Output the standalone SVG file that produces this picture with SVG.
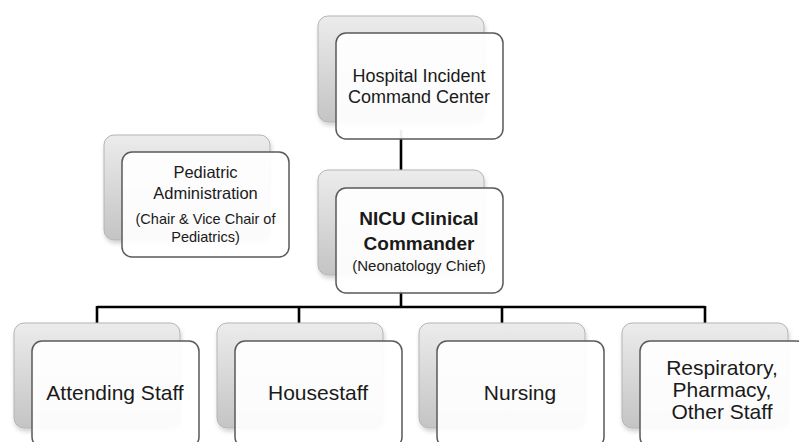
<svg xmlns="http://www.w3.org/2000/svg" width="799" height="442" viewBox="0 0 799 442">
<defs>
<linearGradient id="backGrad" x1="0" y1="0" x2="0" y2="1">
<stop offset="0" stop-color="#ececec"/>
<stop offset="1" stop-color="#c4c4c4"/>
</linearGradient>
<filter id="shadow" x="-10%" y="-10%" width="125%" height="130%">
<feDropShadow dx="1" dy="3" stdDeviation="2" flood-color="#000" flood-opacity="0.18"/>
</filter>
</defs>
<style>
.back{fill:url(#backGrad);stroke:#b4b4b4;stroke-width:1;filter:url(#shadow)}
.front{fill:#ffffff;fill-opacity:0.93;stroke:#5a5a5a;stroke-width:1.5}
.conn{stroke:#000;stroke-width:2.6;fill:none}
text{font-family:"Liberation Sans",Arial,sans-serif;fill:#1a1a1a;text-anchor:middle}
.t18{font-size:18px}
.t21{font-size:21px}
.t16{font-size:16.5px}
.t14{font-size:14.5px}
.t15{font-size:15px}
.bold{font-size:19px;font-weight:bold}
</style>
<rect width="799" height="442" fill="#ffffff"/>
<g id="connectors">
<line class="conn" x1="401" y1="130" x2="401" y2="180"/>
<polyline class="conn" points="401,290 401,307"/>
<line class="conn" x1="97" y1="307" x2="705" y2="307"/>
<line class="conn" x1="97" y1="306" x2="97" y2="330"/>
<line class="conn" x1="299" y1="306" x2="299" y2="330"/>
<line class="conn" x1="502" y1="306" x2="502" y2="330"/>
<line class="conn" x1="705" y1="306" x2="705" y2="330"/>
</g>
<g id="node-hicc">
<rect class="back" x="318" y="16" width="166" height="106" rx="10"/>
<rect class="front" x="336" y="33" width="167" height="106" rx="10"/>
<text class="t18" x="419" y="82">Hospital Incident</text>
<text class="t18" x="419" y="103">Command Center</text>
</g>
<g id="node-pediatric">
<rect class="back" x="104" y="135" width="166" height="105" rx="10"/>
<rect class="front" x="122" y="152" width="167" height="105" rx="10"/>
<text class="t16" x="205.5" y="178">Pediatric</text>
<text class="t16" x="205.5" y="199">Administration</text>
<text class="t14" x="205.5" y="224">(Chair &amp; Vice Chair of</text>
<text class="t14" x="205.5" y="242">Pediatrics)</text>
</g>
<g id="node-nicu">
<rect class="back" x="318" y="170" width="166" height="105" rx="10"/>
<rect class="front" x="336" y="188" width="167" height="105" rx="10"/>
<text class="bold" x="419" y="225">NICU Clinical</text>
<text class="bold" x="419" y="250">Commander</text>
<text class="t15" x="419" y="271">(Neonatology Chief)</text>
</g>
<g id="node-attending">
<rect class="back" x="14" y="323" width="166" height="105" rx="10"/>
<rect class="front" x="32" y="341" width="167" height="106" rx="10"/>
<text class="t21" x="115" y="400">Attending Staff</text>
</g>
<g id="node-housestaff">
<rect class="back" x="217" y="323" width="166" height="105" rx="10"/>
<rect class="front" x="235" y="341" width="167" height="106" rx="10"/>
<text class="t21" x="318" y="400">Housestaff</text>
</g>
<g id="node-nursing">
<rect class="back" x="419" y="323" width="166" height="105" rx="10"/>
<rect class="front" x="437" y="341" width="167" height="106" rx="10"/>
<text class="t21" x="520" y="400">Nursing</text>
</g>
<g id="node-respiratory">
<rect class="back" x="622" y="323" width="166" height="105" rx="10"/>
<rect class="front" x="640" y="341" width="167" height="106" rx="10"/>
<text class="t21" x="722" y="375">Respiratory,</text>
<text class="t21" x="722" y="397">Pharmacy,</text>
<text class="t21" x="722" y="419">Other Staff</text>
</g>
</svg>
